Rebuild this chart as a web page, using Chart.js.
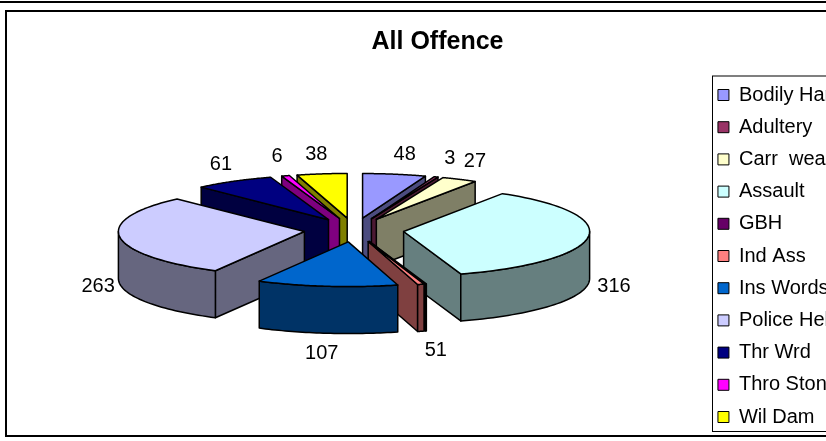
<!DOCTYPE html>
<html>
<head>
  <title>All Offence</title>
  <script src="https://cdn.jsdelivr.net/npm/chart.js"></script>
  <style>
    html, body { margin: 0; background: #fff; overflow: hidden; width: 826px; height: 441px; }
    canvas { display: block; }
  </style>
</head>
<body>
  <canvas id="pie" width="869" height="441"></canvas>

  <script>
    const categories = ['Bodily Harm', 'Adultery', 'Carr  weapon', 'Assault', 'GBH', 'Ind Ass', 'Ins Words', 'Police Help', 'Thr Wrd', 'Thro Stone', 'Wil Dam'];
    const offences = [48, 3, 27, 316, 1, 5, 107, 263, 61, 6, 38];
    const colours = ['#9999ff', '#993366', '#ffffcc', '#ccffff', '#660066', '#ff8080', '#0066cc', '#ccccff', '#000080', '#ff00ff', '#ffff00'];

    // flattened 3D look: Chart.js only does flat pies, so the arcs get squashed and extruded here
    const CX = 354, CY = 230, SQUASH = 0.24, DEPTH = 47;

    function darker(hex) {
      const n = parseInt(hex.slice(1), 16);
      return `rgb(${(n >> 16) >> 1},${((n >> 8) & 255) >> 1},${(n & 255) >> 1})`;
    }

    const pie3d = {
      id: 'pie3d',
      beforeDraw(chart) {
        const ctx = chart.ctx;
        ctx.save();
        ctx.fillStyle = '#fff';
        ctx.fillRect(0, 0, chart.width, chart.height);
        ctx.strokeStyle = '#000';
        ctx.lineWidth = 2;
        ctx.beginPath();
        ctx.moveTo(0, 2); ctx.lineTo(chart.width, 2);
        ctx.moveTo(chart.width, 11); ctx.lineTo(6, 11); ctx.lineTo(6, 436); ctx.lineTo(chart.width, 436);
        ctx.stroke();
        ctx.restore();
      },
      beforeDatasetsDraw(chart) {
        const ctx = chart.ctx;
        const arcs = chart.getDatasetMeta(0).data;
        const project = (x, y) => [CX + x, CY + y * SQUASH];

        const slices = arcs.map((arc, i) => {
          const a0 = arc.startAngle, a1 = arc.endAngle, mid = (a0 + a1) / 2;
          const off = arc.options.offset;
          return { i, a0, a1, mid, r: arc.outerRadius, ox: Math.cos(mid) * off, oy: Math.sin(mid) * off };
        });
        const drawOrder = slices.slice().sort((p, q) => p.oy - q.oy);

        ctx.save();
        ctx.lineJoin = 'round';
        ctx.strokeStyle = '#000';
        ctx.lineWidth = 1.5;
        const paint = fill => { ctx.closePath(); ctx.fillStyle = fill; ctx.fill(); ctx.stroke(); };

        drawOrder.forEach(s => {
          const apex = project(s.ox, s.oy);
          const rim = a => project(s.ox + Math.cos(a) * s.r, s.oy + Math.sin(a) * s.r);
          const side = darker(colours[s.i]);
          const wall = a => {
            const p = rim(a);
            ctx.beginPath();
            ctx.moveTo(apex[0], apex[1]);
            ctx.lineTo(p[0], p[1]);
            ctx.lineTo(p[0], p[1] + DEPTH);
            ctx.lineTo(apex[0], apex[1] + DEPTH);
            paint(side);
          };
          if (Math.cos(s.a0) < 0) wall(s.a0);
          if (Math.cos(s.a1) > 0) wall(s.a1);

          // outer skin, front half only
          const from = Math.max(s.a0, 0), to = Math.min(s.a1, Math.PI);
          if (to > from) {
            const steps = 40;
            ctx.beginPath();
            for (let k = 0; k <= steps; k++) {
              const p = rim(from + (to - from) * k / steps);
              ctx.lineTo(p[0], p[1]);
            }
            for (let k = steps; k >= 0; k--) {
              const p = rim(from + (to - from) * k / steps);
              ctx.lineTo(p[0], p[1] + DEPTH);
            }
            paint(side);
          }

          ctx.beginPath();
          ctx.moveTo(apex[0], apex[1]);
          const steps = 60;
          for (let k = 0; k <= steps; k++) {
            const p = rim(s.a0 + (s.a1 - s.a0) * k / steps);
            ctx.lineTo(p[0], p[1]);
          }
          paint(colours[s.i]);
        });

        // value labels outside the rim, neighbours that collide get pushed apart
        ctx.fillStyle = '#000';
        ctx.font = '20px "Liberation Sans"';
        ctx.textAlign = 'center';
        ctx.textBaseline = 'middle';
        const labels = slices.map(s => {
          const reach = s.r + arcs[s.i].options.offset;
          const sin = Math.sin(s.mid), cos = Math.cos(s.mid);
          return {
            text: String(offences[s.i]),
            x: CX + 2 + cos * (reach + 19) + Math.sign(cos) * 5,
            y: CY + sin * (reach * SQUASH + 20) + (sin > 0 ? DEPTH : 0)
          };
        });
        labels.forEach((l, n) => {
          const next = labels[n + 1];
          if (!next) return;
          const gap = (ctx.measureText(l.text).width + ctx.measureText(next.text).width) / 2;
          if (Math.abs(l.x - next.x) < gap && Math.abs(l.y - next.y) < 16) {
            const mean = (l.x + next.x) / 2;
            const dir = l.x >= next.x ? 1 : -1;
            l.x = mean + dir * gap / 2;
            next.x = mean - dir * gap / 2;
          }
        });
        labels.forEach(l => ctx.fillText(l.text, l.x, l.y));
        ctx.restore();
        return false;
      },
      afterDraw(chart) {
        // box round the legend, it runs off the right edge of the window
        const ctx = chart.ctx, boxes = chart.legend.legendHitBoxes;
        const first = boxes[0], last = boxes[boxes.length - 1];
        const top = first.top + first.height / 2 - 19.5;
        const bottom = last.top + last.height / 2 + 14;
        ctx.save();
        ctx.strokeStyle = '#000';
        ctx.lineWidth = 1;
        ctx.strokeRect(712.5, top + 0.5, 200, bottom - top);
        ctx.restore();
      }
    };

    new Chart(document.getElementById('pie'), {
      type: 'pie',
      data: {
        labels: categories,
        datasets: [{
          data: offences,
          backgroundColor: colours,
          borderColor: '#000',
          borderWidth: 1,
          offset: 50
        }]
      },
      plugins: [pie3d],
      options: {
        responsive: false,
        animation: false,
        radius: 186,
        layout: { padding: { left: 6 } },
        plugins: {
          title: {
            display: true,
            text: 'All Offence',
            color: '#000',
            font: { family: '"Liberation Sans"', size: 25, weight: 'bold' },
            padding: { top: 27, bottom: 14 }
          },
          legend: {
            position: 'right',
            fullSize: false,
            labels: {
              color: '#000',
              boxWidth: 11,
              boxHeight: 11,
              padding: 12.2,
              font: { family: '"Liberation Sans"', size: 20 }
            }
          },
          tooltip: { enabled: false }
        }
      }
    });
  </script>
</body>
</html>
